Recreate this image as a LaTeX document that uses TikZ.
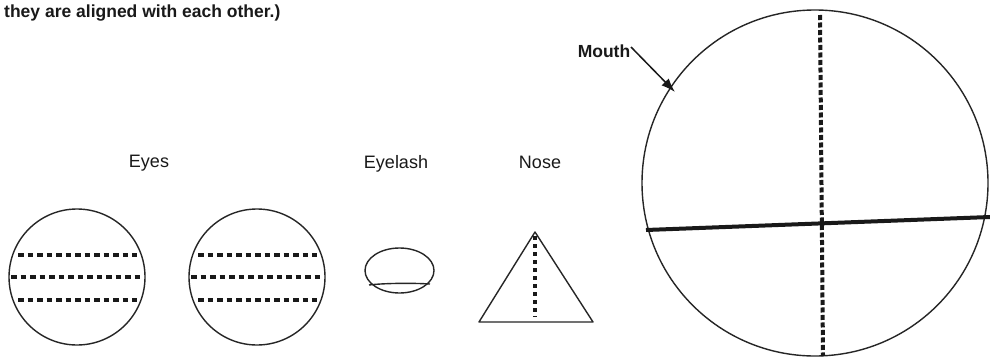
\documentclass[tikz,border=0pt]{standalone}
\usepackage{fontspec}
\setmainfont{Liberation Sans}
\usetikzlibrary{arrows.meta,shapes.geometric}
\begin{document}
\begin{tikzpicture}[x=1pt,y=-1pt,
  outline/.style={draw=black!85, line width=1.4pt},
  dotline/.style={draw=black!90, line width=3.8pt, dash pattern=on 5.5pt off 4pt},
  vdot/.style={draw=black!90, line width=4pt, dash pattern=on 5pt off 2.5pt},
  lbl/.style={font=\fontsize{18}{20}\selectfont, text=black!90, inner sep=0pt, anchor=base},
  heading/.style={font=\bfseries\fontsize{17.5}{19}\selectfont, text=black!90, inner sep=0pt, anchor=base west}]
\useasboundingbox (0,0) rectangle (990,356);
\fill[white] (0,0) rectangle (990,356);
% heading
\node[heading] (head) at (4,17) {they are aligned with each other.)};
% labels
\node[lbl] (eyeslbl) at (149,167) {Eyes};
\node[lbl] (lashlbl) at (396,168) {Eyelash};
\node[lbl] (noselbl) at (540,168) {Nose};
% eye 1
\node[outline, circle, minimum size=136pt, inner sep=0pt] (eye1) at (77,277) {};
\draw[dotline] (18,255) -- (137,255);
\draw[dotline] (11,277) -- (143,277);
\draw[dotline] (18,300) -- (137,300);
% eye 2
\node[outline, circle, minimum size=136pt, inner sep=0pt] (eye2) at (257,277) {};
\draw[dotline] (198,255) -- (317,255);
\draw[dotline] (191,277) -- (323,277);
\draw[dotline] (198,300) -- (317,300);
% eyelash
\node[outline, ellipse, minimum width=69pt, minimum height=45pt, inner sep=0pt] (lash) at (399.5,270.5) {};
\draw[outline] (369,285) .. controls (385,283) and (415,283) .. (430,284);
% nose
\coordinate (apex) at (535,232);
\coordinate (bl) at (479,322);
\coordinate (br) at (593,322);
\draw[outline, line join=round] (apex) -- (bl) -- (br) -- cycle;
\coordinate (nt) at (535,236);
\coordinate (nb) at (535,317);
\draw[draw=black!90, line width=3.5pt, dash pattern=on 4pt off 4pt] (nt) -- (nb);
% mouth
\node[outline, circle, minimum size=346pt, inner sep=0pt] (mouth) at (815,183) {};
\coordinate (vt) at (820,15);
\coordinate (vb) at (823,356);
\draw[vdot] (vt) -- (vb);
\coordinate (hl) at (646,230);
\coordinate (hr) at (990,217);
\draw[draw=black!90, line width=4pt] (hl) -- (hr);
\node[lbl, font=\bfseries\fontsize{17.5}{19}\selectfont] (mouthlbl) at (604,57) {Mouth};
\coordinate (mstart) at (631,47);
\coordinate (mtip) at (675,92);
\draw[draw=black!90, line width=1.5pt, -{Latex[length=14pt,width=10pt]}] (mstart) -- (mtip);
\end{tikzpicture}
\end{document}
